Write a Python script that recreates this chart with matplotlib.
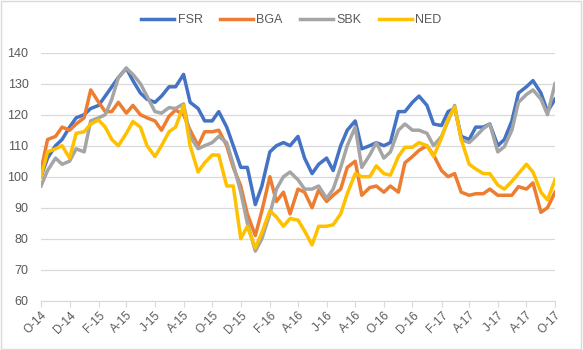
import matplotlib
matplotlib.use("Agg")
import matplotlib.pyplot as plt
import matplotlib.dates as mdates
from matplotlib.patches import Rectangle
import pandas as pd

# semi-monthly readings, Oct 2014 .. Oct 2017 (indexed to 100)
dates = pd.date_range("2014-10-01", "2017-10-01", freq="SMS")

fsr = [100, 106, 110, 112, 116, 119, 120, 122, 123, 126, 129, 132, 135, 131, 127,
       125, 124, 126, 129, 129, 133, 124, 122, 118, 118, 121, 116, 110, 103,
       103, 91, 97, 108, 110, 111, 110, 113, 106, 101, 104, 106, 102,
       110, 115, 118, 109, 110, 111, 110, 111, 121, 121, 124, 126, 123, 117, 116.5,
       121, 122, 113, 112, 116, 116, 117, 110, 112, 118, 127, 129, 131, 127, 121, 125]
bga = [102, 112, 113, 116, 115, 117, 119, 128, 124, 121, 121, 124, 120.5, 123, 120,
       119, 118, 115, 119.5, 121.5, 120, 115, 110, 114.5, 114.5, 115, 110, 103, 97,
       88, 81, 89, 100, 92, 95, 88, 96, 95, 90, 95.7, 92, 94,
       96, 103, 105, 94, 96.5, 97, 95, 97, 95, 104.5, 106.5, 108.5, 110, 107, 102,
       100, 101, 95, 94, 94.5, 94.5, 96, 94, 94, 94, 96.8, 96, 98, 88.5, 90, 95]
sbk = [97, 102, 106, 104, 105, 109, 108, 118, 119, 120, 125, 132, 135, 133, 130,
       126, 121, 120.5, 122.3, 122, 123.5, 113, 109, 110, 111, 113, 111, 104, 95,
       85, 76, 80, 88, 96, 100, 101.5, 99, 96, 96, 97, 93, 96,
       103, 110, 116, 103, 107, 111, 106, 108, 115, 117, 115, 115, 114, 110, 113,
       118, 123, 112, 111, 113, 115.5, 117, 108, 109.7, 115, 124, 126.5, 128, 125, 120, 130]
ned = [100, 108, 109, 110, 106, 114, 114.5, 117, 118.3, 116, 112, 110, 114, 117.8, 116,
       110, 106.5, 110, 114.5, 116, 123, 110, 101.5, 104.5, 107, 107, 97, 97, 80,
       84, 77, 82, 89, 87, 84, 86.5, 86, 82.5, 78, 84, 84, 84.5,
       88, 94.5, 101, 100, 100, 103.5, 101, 100.5, 106.5, 109.5, 109.5, 111, 110, 106.5, 112.5,
       118.5, 122.5, 112, 104, 102.5, 101, 101, 97.3, 96, 98.5, 101, 104, 101.5, 95, 92.5, 99]

series = [("FSR", fsr, "#4472C4"), ("BGA", bga, "#ED7D31"),
          ("SBK", sbk, "#A5A5A5"), ("NED", ned, "#FFC000")]

plt.rcParams["font.family"] = ["Liberation Sans", "DejaVu Sans"]

fig = plt.figure(figsize=(5.83, 3.5), dpi=100)
ax = fig.add_axes([0.0703, 0.1409, 0.8817, 0.7085])

for name, vals, col in series:
    ax.plot(dates, vals, color=col, lw=2.5, label=name, solid_joinstyle="round")

ax.set_ylim(60, 140)
ax.set_yticks(range(60, 141, 10))
ax.set_xlim(dates[0], dates[-1])
ax.xaxis.set_major_locator(mdates.MonthLocator(bymonth=[2, 4, 6, 8, 10, 12]))
ax.xaxis.set_major_formatter(plt.FuncFormatter(
    lambda v, p: mdates.num2date(v).strftime("%b")[0] + "-" + mdates.num2date(v).strftime("%y")))

ax.grid(axis="y", color="#D9D9D9", lw=0.9)
ax.set_axisbelow(True)
for s in ["top", "right", "left"]:
    ax.spines[s].set_visible(False)
ax.spines["bottom"].set_color("#D9D9D9")
ax.tick_params(axis="y", length=0, pad=9, labelsize=9, labelcolor="#595959")
ax.tick_params(axis="x", length=4, color="#D9D9D9", labelsize=8.5, labelcolor="#595959", pad=2)
for lab in ax.get_xticklabels():
    lab.set_rotation(45)
    lab.set_ha("right")
    lab.set_rotation_mode("anchor")

fig.legend(loc="center", bbox_to_anchor=(0.5, 0.942), ncol=4, frameon=False,
           fontsize=9, labelcolor="#595959", handlelength=2.6, handletextpad=0.3,
           columnspacing=1.4)

fig.patches.append(Rectangle((0.002, 0.003), 0.995, 0.993, transform=fig.transFigure,
                             fill=False, edgecolor="#D9D9D9", lw=1))

fig.savefig("out.png", dpi=100)
